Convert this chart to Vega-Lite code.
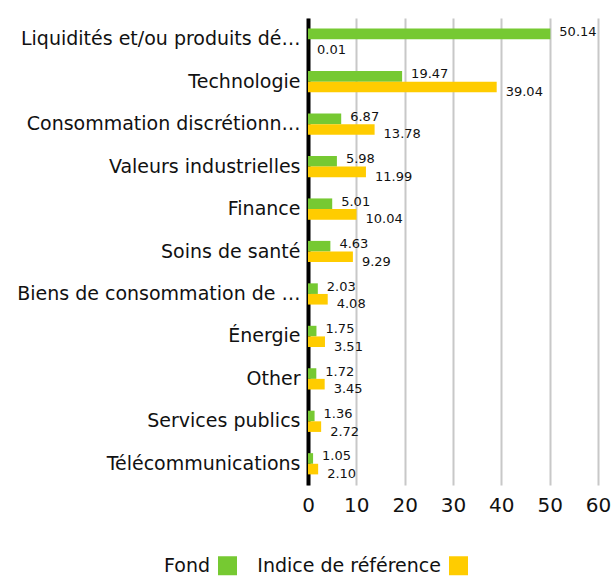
{
  "$schema": "https://vega.github.io/schema/vega-lite/v6.json",
  "autosize": {"type": "none"},
  "width": 290,
  "height": 467,
  "padding": {"left": 308, "right": 15, "top": 18, "bottom": 93},
  "config": {
    "font": "DejaVu Sans",
    "view": {"stroke": null},
    "axis": {"labelFont": "DejaVu Sans", "labelColor": "#111"},
    "legend": {"labelFont": "DejaVu Sans"}
  },
  "data": {
    "values": [
      {"cat": "Liquidités et/ou produits dérivés", "series": "Fond", "v": 50.14},
      {"cat": "Liquidités et/ou produits dérivés", "series": "Indice de référence", "v": 0.01},
      {"cat": "Technologie", "series": "Fond", "v": 19.47},
      {"cat": "Technologie", "series": "Indice de référence", "v": 39.04},
      {"cat": "Consommation discrétionnaire", "series": "Fond", "v": 6.87},
      {"cat": "Consommation discrétionnaire", "series": "Indice de référence", "v": 13.78},
      {"cat": "Valeurs industrielles", "series": "Fond", "v": 5.98},
      {"cat": "Valeurs industrielles", "series": "Indice de référence", "v": 11.99},
      {"cat": "Finance", "series": "Fond", "v": 5.01},
      {"cat": "Finance", "series": "Indice de référence", "v": 10.04},
      {"cat": "Soins de santé", "series": "Fond", "v": 4.63},
      {"cat": "Soins de santé", "series": "Indice de référence", "v": 9.29},
      {"cat": "Biens de consommation de base", "series": "Fond", "v": 2.03},
      {"cat": "Biens de consommation de base", "series": "Indice de référence", "v": 4.08},
      {"cat": "Énergie", "series": "Fond", "v": 1.75},
      {"cat": "Énergie", "series": "Indice de référence", "v": 3.51},
      {"cat": "Other", "series": "Fond", "v": 1.72},
      {"cat": "Other", "series": "Indice de référence", "v": 3.45},
      {"cat": "Services publics", "series": "Fond", "v": 1.36},
      {"cat": "Services publics", "series": "Indice de référence", "v": 2.72},
      {"cat": "Télécommunications", "series": "Fond", "v": 1.05},
      {"cat": "Télécommunications", "series": "Indice de référence", "v": 2.10}
    ]
  },
  "encoding": {
    "y": {
      "field": "cat", "type": "nominal", "sort": null,
      "scale": {"paddingInner": 0.5, "paddingOuter": 0.25},
      "axis": {
        "title": null, "ticks": false, "domainColor": "#000", "domainWidth": 4,
        "labelFontSize": 19, "labelLimit": 285, "labelPadding": 8, "grid": false
      }
    },
    "yOffset": {"field": "series", "type": "nominal", "sort": ["Fond", "Indice de référence"]},
    "x": {
      "field": "v", "type": "quantitative",
      "scale": {"domain": [0, 60], "nice": false},
      "axis": {
        "title": null, "values": [0, 10, 20, 30, 40, 50, 60], "domain": false, "ticks": false,
        "grid": true, "gridColor": "#c8c8c8", "gridWidth": 2,
        "labelFontSize": 20, "labelPadding": 10, "labelFlush": false
      }
    }
  },
  "layer": [
    {
      "mark": {"type": "bar"},
      "encoding": {
        "color": {
          "field": "series", "type": "nominal",
          "scale": {"domain": ["Fond", "Indice de référence"], "range": ["#76C932", "#FFCC00"]},
          "legend": {
            "title": null, "orient": "none", "legendX": -90, "legendY": 538, "direction": "horizontal",
            "symbolType": "square", "symbolSize": 361, "symbolStrokeWidth": 0,
            "labelFontSize": 19, "labelColor": "#111", "labelAlign": "right", "labelOffset": -27,
            "labelLimit": 400, "columnPadding": 20
          }
        }
      }
    },
    {
      "transform": [{"filter": "datum.series === 'Fond'"}],
      "mark": {"type": "text", "align": "left", "baseline": "middle", "dx": 9, "dy": -2, "fontSize": 13, "color": "#111"},
      "encoding": {"text": {"field": "v", "type": "quantitative", "format": ".2f"}}
    },
    {
      "transform": [{"filter": "datum.series !== 'Fond'"}],
      "mark": {"type": "text", "align": "left", "baseline": "middle", "dx": 9, "dy": 5, "fontSize": 13, "color": "#111"},
      "encoding": {"text": {"field": "v", "type": "quantitative", "format": ".2f"}}
    }
  ]
}
